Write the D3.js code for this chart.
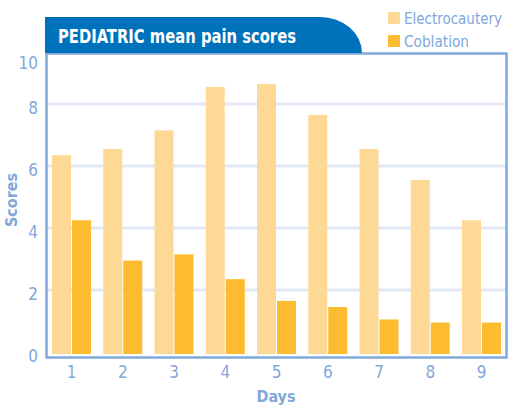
<!DOCTYPE html>
<html>
<head>
<meta charset="utf-8">
<script src="https://cdn.jsdelivr.net/npm/d3@7"></script>
<style>
  body { margin: 0; background: #fff; }
  svg text { font-family: "Liberation Sans Narrow", "DejaVu Sans Condensed", "Roboto", sans-serif; }
</style>
</head>
<body>
<script>
// data
const days = ["1", "2", "3", "4", "5", "6", "7", "8", "9"];
const series = ["Electrocautery", "Coblation"];
const electrocautery = [6.35, 6.55, 7.15, 8.55, 8.65, 7.65, 6.55, 5.55, 4.25];
const coblation = [4.25, 2.95, 3.15, 2.35, 1.65, 1.45, 1.05, 0.95, 0.95];
const yTicks = [0, 2, 4, 6, 8, 10];
const colors = ["#fed995", "#fdbb30"];

const width = 508, height = 407;
const labelColor = "#80a8da";

const table = days.map((d, i) => ({day: d, values: [electrocautery[i], coblation[i]]}));

const svg = d3.select("body").append("svg")
  .attr("width", width)
  .attr("height", height);

const x0 = d3.scaleBand()
  .domain(days)
  .range([46, 507])
  .paddingInner(0.239)
  .paddingOuter(0.117);

const x1 = d3.scaleBand()
  .domain(series)
  .range([0, x0.bandwidth()])
  .paddingInner(0.05);

const y = d3.scaleLinear()
  .domain([0, 10])
  .range([352, 42]);

// grid lines
svg.append("g")
  .selectAll("line")
  .data(yTicks.filter(d => d > 0 && d < 10))
  .enter().append("line")
  .attr("x1", 48)
  .attr("x2", 505)
  .attr("y1", d => y(d))
  .attr("y2", d => y(d))
  .attr("stroke", "#e2e9f5")
  .attr("stroke-width", 3);

// bars
const groups = svg.append("g")
  .selectAll("g")
  .data(table)
  .enter().append("g")
  .attr("transform", d => "translate(" + x0(d.day) + ",0)");

groups.selectAll("rect")
  .data(d => d.values.map((v, i) => ({key: series[i], value: v, i: i})))
  .enter().append("rect")
  .attr("x", d => x1(d.key))
  .attr("y", d => y(d.value))
  .attr("width", x1.bandwidth())
  .attr("height", d => y(0) + 2 - y(d.value))
  .attr("fill", d => colors[d.i]);

// frame
svg.append("rect")
  .attr("x", 46.5)
  .attr("y", 53.5)
  .attr("width", 460)
  .attr("height", 304)
  .attr("fill", "none")
  .attr("stroke", "#80a9db")
  .attr("stroke-width", 2.5);

// header tab
svg.append("path")
  .attr("d", "M45,53 V17 H320 A42,36 0 0 1 362,53 Z")
  .attr("fill", "#0072bc");

svg.append("text")
  .attr("x", 58)
  .attr("y", 43)
  .attr("fill", "#fff")
  .attr("font-size", 19)
  .attr("font-weight", "bold")
  .attr("textLength", 238)
  .attr("lengthAdjust", "spacingAndGlyphs")
  .text("PEDIATRIC mean pain scores");

// y axis labels
const yAxis = d3.axisLeft(y).tickValues(yTicks).tickSize(0).tickPadding(0);
const yg = svg.append("g")
  .attr("transform", "translate(38,0)")
  .call(yAxis);
yg.select(".domain").remove();
yg.selectAll("text")
  .attr("fill", labelColor)
  .attr("font-size", 17)
  .attr("dy", null)
  .attr("y", d => Math.max(y(d) + 3, 62) - y(d) + 6);

// x axis labels
const xAxis = d3.axisBottom(x0).tickSize(0).tickPadding(0);
const xg = svg.append("g")
  .attr("transform", "translate(0,366)")
  .call(xAxis);
xg.select(".domain").remove();
xg.selectAll("text")
  .attr("fill", labelColor)
  .attr("font-size", 17)
  .attr("dy", "0.71em");

// axis titles
svg.append("text")
  .attr("transform", "translate(17,200) rotate(-90)")
  .attr("text-anchor", "middle")
  .attr("fill", labelColor)
  .attr("font-size", 16)
  .attr("font-weight", "bold")
  .text("Scores");

svg.append("text")
  .attr("x", 276)
  .attr("y", 402)
  .attr("text-anchor", "middle")
  .attr("fill", labelColor)
  .attr("font-size", 16)
  .attr("font-weight", "bold")
  .text("Days");

// legend
const legendWidths = [98, 65];
const legend = svg.append("g")
  .selectAll("g")
  .data(series)
  .enter().append("g")
  .attr("transform", (d, i) => "translate(388," + (12 + i * 23) + ")");

legend.append("rect")
  .attr("width", 12)
  .attr("height", 12)
  .attr("fill", (d, i) => colors[i]);

legend.append("text")
  .attr("x", 16)
  .attr("y", 12)
  .attr("fill", labelColor)
  .attr("font-size", 16)
  .attr("textLength", (d, i) => legendWidths[i])
  .attr("lengthAdjust", "spacingAndGlyphs")
  .text(d => d);
</script>
</body>
</html>
